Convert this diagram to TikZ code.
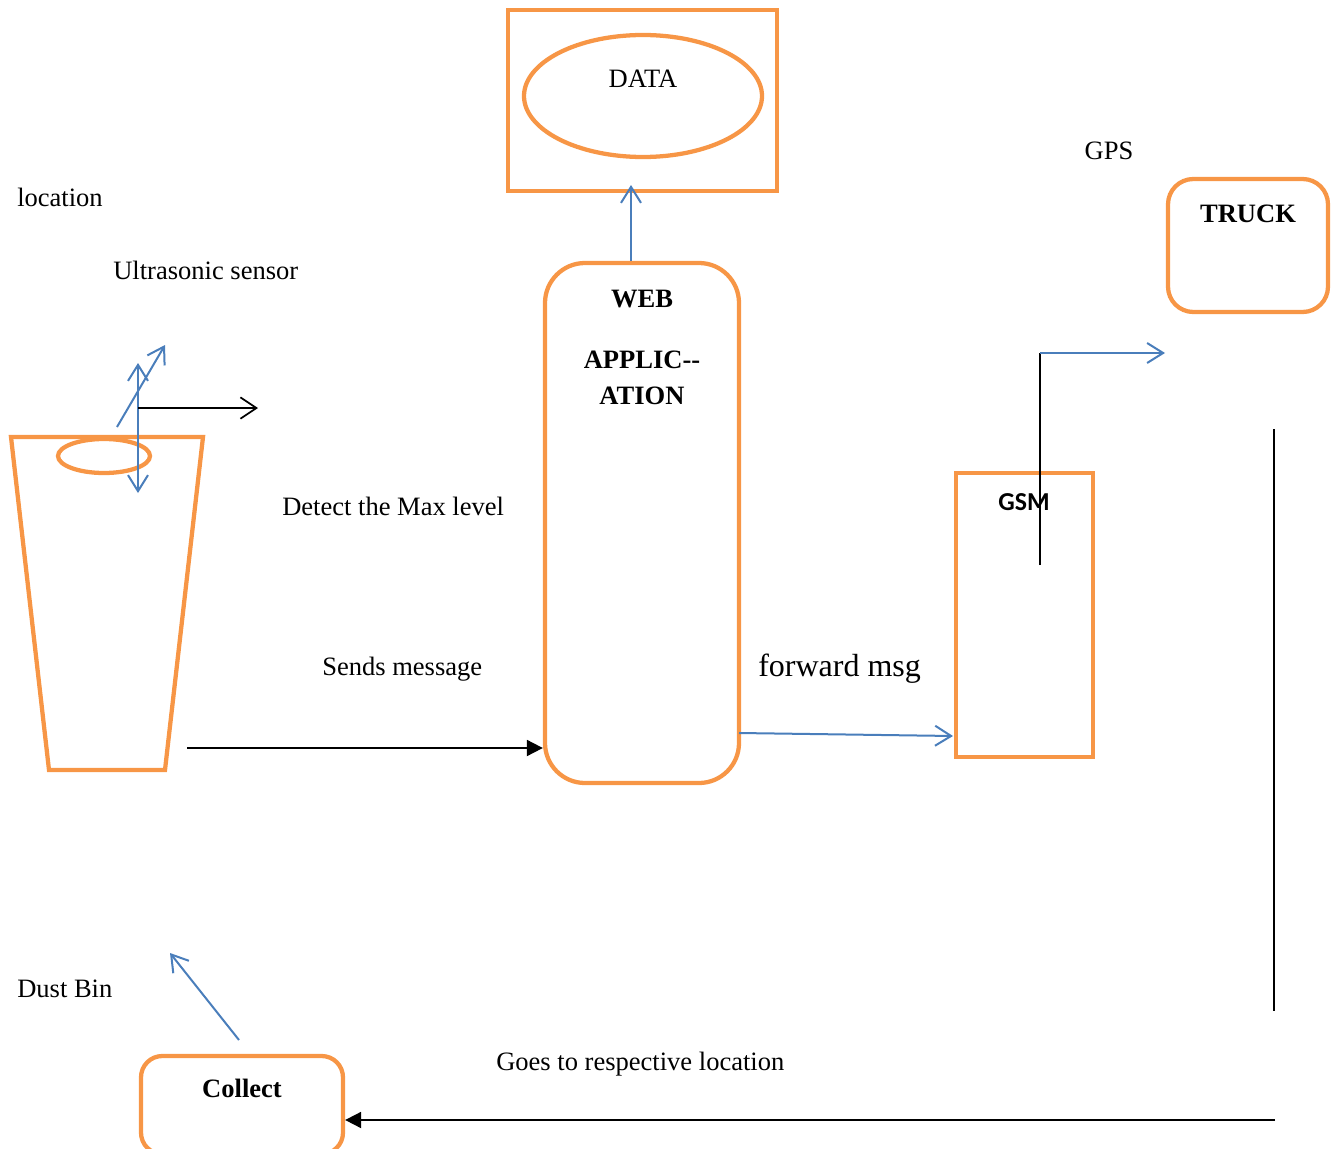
\documentclass[tikz,border=0pt]{standalone}
\usepackage{fontspec}
\setmainfont{Liberation Serif}[BoldFont={Liberation Serif Bold},ItalicFont={Liberation Serif Italic}]
\newfontfamily\gsmfont{Carlito}[BoldFont={Carlito Bold}]
\usetikzlibrary{arrows.meta,shapes.geometric}
\definecolor{orng}{HTML}{F79646}
\definecolor{blu}{HTML}{4A7EBB}
\tikzset{
  box/.style={draw=orng,line width=3.2pt,inner sep=0pt,rectangle},
  rbox/.style={box,rounded corners=#1},
  txt/.style={inner sep=0pt,font=\fontsize{19.9}{24}\selectfont},
  btxt/.style={inner sep=0pt,font=\bfseries\fontsize{19.9}{24}\selectfont},
  barb/.style={-{Straight Barb[length=12pt,width=15pt]}},
  bluearrow/.style={draw=blu,line width=1.5pt,barb},
  blackbarb/.style={draw=black,line width=1.3pt,-{Straight Barb[length=12pt,width=16pt]}},
  blacktri/.style={draw=black,line width=1.4pt,-{Triangle[length=12pt,width=12pt]}},
  blackline/.style={draw=black,line width=1.2pt}
}
\begin{document}
\begin{tikzpicture}[x=0.75pt,y=-0.75pt]
\useasboundingbox (0,0) rectangle (1336,1149);
% boxes
\node[box,minimum width=269*0.75pt,minimum height=181*0.75pt] (databox) at (642.5,100.5) {};
\node[draw=orng,line width=3.2pt,ellipse,inner sep=0pt,minimum width=238*0.75pt,minimum height=122*0.75pt] (dataell) at (643,96) {};
\node[rbox=30pt,minimum width=194*0.75pt,minimum height=520*0.75pt] (web) at (642,523) {};
\node[rbox=19pt,minimum width=160*0.75pt,minimum height=133*0.75pt] (truck) at (1248,245.5) {};
\node[box,minimum width=137*0.75pt,minimum height=284*0.75pt] (gsm) at (1024.5,615) {};
\node[rbox=16pt,minimum width=202*0.75pt,minimum height=98*0.75pt] (collect) at (242,1105) {};
% dust bin
\draw[draw=orng,line width=3.2pt] (11,437) -- (203,437) -- (165,770) -- (49,770) -- cycle;
\node[draw=orng,line width=3.2pt,ellipse,inner sep=0pt,minimum width=92*0.75pt,minimum height=34*0.75pt] (lid) at (104,456) {};
% texts
\node[txt,anchor=base] (tdata) at (643,88) {DATA};
\node[btxt,anchor=base] (tweb) at (642,307) {WEB};
\node[btxt,anchor=base] (tapp) at (642,368) {APPLIC{-}{-}};
\node[btxt,anchor=base] (tation) at (642,404) {ATION};
\node[txt,anchor=base] (tgps) at (1109,159) {GPS};
\node[btxt,anchor=base] (ttruck) at (1248,222) {TRUCK};
\node[inner sep=0pt,anchor=base,font=\gsmfont\bfseries\fontsize{19.4}{23}\selectfont] (tgsm) at (1024,510) {GSM};
\node[btxt,anchor=base] (tcollect) at (242,1097) {Collect};
\node[txt,anchor=base west] (tloc) at (17,206) {location};
\node[txt,anchor=base west] (tus) at (113,279) {Ultrasonic sensor};
\node[txt,anchor=base west] (tdetect) at (282,515) {Detect the Max level};
\node[txt,anchor=base west] (tsends) at (322,675) {Sends message};
\node[inner sep=0pt,anchor=base west,font=\fontsize{24}{28}\selectfont] (tfwd) at (758,676) {forward msg};
\node[txt,anchor=base west] (tgoes) at (496,1070) {Goes to respective location};
\node[txt,anchor=base west] (tdust) at (17,997) {Dust Bin};
% coordinates
\coordinate (dtip) at (631,185);
\coordinate (s1) at (138,493);
\coordinate (s2) at (138,363);
\coordinate (d1) at (117,427);
\coordinate (d2) at (165,345);
\coordinate (h1) at (138,408);
\coordinate (h2) at (258,408);
\coordinate (sendstart) at (187,748);
\coordinate (fwd1) at (739,733);
\coordinate (fwd2) at (953,736);
\coordinate (g1) at (1040,565);
\coordinate (g2) at (1040,353);
\coordinate (g3) at (1165,353);
\coordinate (v1) at (1274,429);
\coordinate (v2) at (1274,1011);
\coordinate (c1) at (1275,1120);
\coordinate (b1) at (239,1040);
\coordinate (b2) at (170,953);
% connectors
\draw[bluearrow] (web.north -| dtip) -- (dtip);
\draw[draw=blu,line width=1.5pt,{Straight Barb[length=12pt,width=15pt]}-{Straight Barb[length=12pt,width=15pt]}] (s1) -- (s2);
\draw[bluearrow] (d1) -- (d2);
\draw[blackbarb] (h1) -- (h2);
\draw[blacktri] (sendstart) -- (sendstart -| web.west);
\draw[bluearrow] (fwd1) -- (fwd2);
\draw[blackline] (g1) -- (g2);
\draw[bluearrow] (g2) -- (g3);
\draw[blackline] (v1) -- (v2);
\draw[blacktri] (c1) -- (c1 -| collect.east);
\draw[bluearrow] (b1) -- (b2);
\end{tikzpicture}
\end{document}
